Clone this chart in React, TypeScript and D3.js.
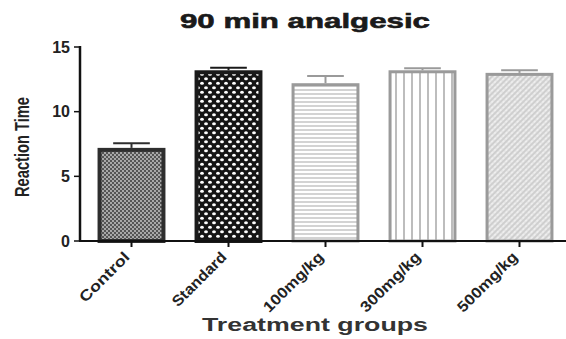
import React from "react";
import * as d3 from "d3";

const categories = ["Control", "Standard", "100mg/kg", "300mg/kg", "500mg/kg"];
const means = [7.2, 13.2, 12.2, 13.2, 13.0];
const sems = [0.35, 0.2, 0.55, 0.15, 0.2];
const yTicks = [0, 5, 10, 15];

const W = 566;
const H = 339;

const patternIds = ["pCtrl", "pStd", "pH", "pV", "pD"];
const borders = ["#2e2e2e", "#1a1a1a", "#9a9a9a", "#9a9a9a", "#9a9a9a"];
const borderW = [4, 4, 3, 3, 3];

export default function App() {
  const x = d3
    .scaleBand<string>()
    .domain(categories)
    .range([83, 568])
    .paddingInner(0.3)
    .paddingOuter(0.15);
  const y = d3.scaleLinear().domain([0, 15]).range([241, 47]);
  const bw = x.bandwidth();
  const font = "Liberation Sans, Arial, sans-serif";

  return (
    <svg
      width={W}
      height={H}
      style={{ position: "absolute", left: 0, top: 0, background: "#fff" }}
    >
      <defs>
        <pattern id="pCtrl" width="4" height="4" patternUnits="userSpaceOnUse">
          <rect width="4" height="4" fill="#555" />
          <circle cx="1" cy="1" r="0.9" fill="#d0d0d0" />
          <circle cx="3" cy="3" r="0.9" fill="#d0d0d0" />
        </pattern>
        <pattern id="pStd" width="8" height="9" patternUnits="userSpaceOnUse">
          <rect width="8" height="9" fill="#151515" />
          <ellipse cx="2" cy="2.25" rx="1.9" ry="1.5" fill="#fff" />
          <ellipse cx="6" cy="6.75" rx="1.9" ry="1.5" fill="#fff" />
        </pattern>
        <pattern id="pH" width="6" height="4" patternUnits="userSpaceOnUse">
          <rect width="6" height="4" fill="#fff" />
          <line x1="0" y1="2" x2="6" y2="2" stroke="#a8a8a8" strokeWidth="1" />
        </pattern>
        <pattern id="pV" width="8" height="6" patternUnits="userSpaceOnUse">
          <rect width="8" height="6" fill="#fff" />
          <line x1="4" y1="0" x2="4" y2="6" stroke="#9a9a9a" strokeWidth="1.3" />
        </pattern>
        <pattern
          id="pD"
          width="4"
          height="4"
          patternUnits="userSpaceOnUse"
          patternTransform="rotate(-45)"
        >
          <rect width="4" height="4" fill="#eeeeee" />
          <line x1="0" y1="2" x2="4" y2="2" stroke="#b0b0b0" strokeWidth="1" />
          <line x1="2" y1="0" x2="2" y2="4" stroke="#d0d0d0" strokeWidth="0.6" />
        </pattern>
      </defs>

      <text
        x={305}
        y={28}
        textAnchor="middle"
        fontFamily={font}
        fontWeight="bold"
        fontSize={21}
        textLength={250}
        lengthAdjust="spacingAndGlyphs"
        fill="#1a1a1a"
        stroke="#1a1a1a"
        strokeWidth={0.6}
      >
        90 min analgesic
      </text>

      {/* bars */}
      {categories.map((c, i) => {
        const x0 = x(c)!;
        const top = y(means[i]);
        const bwid = borderW[i];
        const errTop = y(means[i] + sems[i]);
        const cx = x0 + bw / 2;
        return (
          <g key={c}>
            <line
              x1={cx}
              x2={cx}
              y1={top}
              y2={errTop}
              stroke={borders[i]}
              strokeWidth={2}
            />
            <line
              x1={cx - bw * 0.27}
              x2={cx + bw * 0.27}
              y1={errTop}
              y2={errTop}
              stroke={borders[i]}
              strokeWidth={2}
            />
            <rect
              x={x0 + bwid / 2}
              y={top + bwid / 2}
              width={bw - bwid}
              height={y(0) - top - bwid / 2}
              fill={`url(#${patternIds[i]})`}
              stroke={borders[i]}
              strokeWidth={bwid}
            />
          </g>
        );
      })}

      {/* y axis */}
      <line x1={80} x2={80} y1={y(15) - 1} y2={y(0)} stroke="#111" strokeWidth={2.5} />
      {yTicks.map((t) => (
        <g key={t}>
          <line x1={74} x2={80} y1={y(t)} y2={y(t)} stroke="#111" strokeWidth={1.5} />
          <text
            x={70}
            y={y(t) + 5.5}
            textAnchor="end"
            fontFamily={font}
            fontWeight="bold"
            fontSize={16}
            fill="#222"
          >
            {t}
          </text>
        </g>
      ))}

      {/* x axis */}
      <line x1={79} x2={W} y1={y(0)} y2={y(0)} stroke="#111" strokeWidth={1.8} />
      {categories.map((c) => {
        const cx = x(c)! + bw / 2;
        return (
          <g key={c}>
            <line x1={cx} x2={cx} y1={y(0)} y2={y(0) + 6} stroke="#111" strokeWidth={2} />
            <text
              transform={`translate(${cx - 1},${y(0) + 17}) rotate(-45)`}
              textAnchor="end"
              fontFamily={font}
              fontWeight="bold"
              fontSize={15}
              textLength={c === "Control" ? 64 : c === "Standard" ? 70 : 78}
              lengthAdjust="spacingAndGlyphs"
              fill="#222"
            >
              {c}
            </text>
          </g>
        );
      })}

      <text
        transform={`translate(29,147) rotate(-90)`}
        textAnchor="middle"
        fontFamily={font}
        fontWeight="bold"
        fontSize={21}
        textLength={100}
        lengthAdjust="spacingAndGlyphs"
        fill="#222"
      >
        Reaction Time
      </text>

      <text
        x={315}
        y={331}
        textAnchor="middle"
        fontFamily={font}
        fontWeight="bold"
        fontSize={18}
        textLength={226}
        lengthAdjust="spacingAndGlyphs"
        fill="#333"
      >
        Treatment groups
      </text>
    </svg>
  );
}
